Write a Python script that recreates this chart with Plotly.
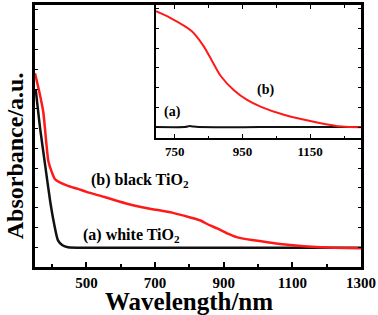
import plotly.graph_objects as go

# ---- main panel data (wavelength nm, absorbance a.u.) ----
red_wl = [350, 362, 374, 389, 400, 408, 425, 446, 475, 500, 550, 613, 677, 750, 803, 832, 860, 881, 910, 940, 987, 1040, 1086, 1182, 1300]
red_ab = [1.96, 1.78, 1.57, 1.07, 0.95, 0.89, 0.85, 0.82, 0.79, 0.76, 0.71, 0.645, 0.595, 0.55, 0.50, 0.47, 0.42, 0.39, 0.34, 0.30, 0.27, 0.245, 0.225, 0.20, 0.19]

blk_wl = [352, 365, 380, 394, 405, 417, 430, 446, 500, 600, 800, 1000, 1300]
blk_ab = [1.80, 1.40, 1.02, 0.67, 0.45, 0.27, 0.22, 0.20, 0.195, 0.195, 0.195, 0.195, 0.195]

# ---- inset data ----
ins_red_wl = [695, 737, 800, 835, 860, 885, 925, 965, 1005, 1075, 1174, 1244, 1300]
ins_red_ab = [1.287, 1.22, 1.087, 0.937, 0.787, 0.637, 0.487, 0.387, 0.32, 0.237, 0.16, 0.12, 0.113]
ins_blk_wl = [695, 780, 795, 805, 820, 1000, 1300]
ins_blk_ab = [0.115, 0.115, 0.125, 0.12, 0.115, 0.115, 0.115]

main_xticks = [500, 700, 900, 1100, 1300]
inset_xticks = [750, 950, 1150]

RED = "#ff1a1a"
BLK = "#111111"
FONT = "Liberation Serif"

# pixel geometry of the reference (used only for label placement)
L, R, T, B = 35, 361, 2, 267
IL = 156

def px_to_x(px, lo, hi, left, right):
    return lo + (px - left) / (right - left) * (hi - lo)

fig = go.Figure()
fig.add_trace(go.Scatter(x=blk_wl, y=blk_ab, mode="lines", line=dict(color=BLK, width=2.5, shape="spline", smoothing=0.6),
                         xaxis="x", yaxis="y", showlegend=False))
fig.add_trace(go.Scatter(x=red_wl, y=red_ab, mode="lines", line=dict(color=RED, width=2.5, shape="spline", smoothing=0.6),
                         xaxis="x", yaxis="y", showlegend=False))
fig.add_trace(go.Scatter(x=ins_blk_wl, y=ins_blk_ab, mode="lines", line=dict(color=BLK, width=2, shape="spline", smoothing=0.5),
                         xaxis="x2", yaxis="y2", showlegend=False))
fig.add_trace(go.Scatter(x=ins_red_wl, y=ins_red_ab, mode="lines", line=dict(color=RED, width=2, shape="spline", smoothing=0.7),
                         xaxis="x2", yaxis="y2", showlegend=False))

def axis(**kw):
    d = dict(showgrid=False, zeroline=False, showline=True, linecolor="black", linewidth=2.5,
             ticks="inside", tickcolor="black")
    d.update(kw)
    return d

fig.update_layout(
    width=378, height=315,
    margin=dict(l=L, r=378 - R, t=T, b=315 - B),
    paper_bgcolor="white", plot_bgcolor="white",
    font=dict(family=FONT, color="black", size=15, weight="bold"),
    xaxis=axis(domain=[0, 1], range=[350, 1300], tickvals=main_xticks, ticklen=5, tickwidth=1.5,
               mirror=True, tickfont=dict(size=15, family=FONT, weight="bold"),
               minor=dict(ticks="inside", ticklen=3, tickwidth=1.5, tickvals=[400, 600, 800, 1000, 1200], tickcolor="black")),
    yaxis=axis(domain=[0, 1], range=[0, 2.65], dtick=0.2, tick0=0, ticklen=3, tickwidth=1,
               mirror="ticks", showticklabels=False),
    xaxis2=axis(anchor="y2", domain=[(IL - L) / (R - L), 1], range=[695, 1300], tickvals=inset_xticks, ticklen=4, tickwidth=1.2,
                mirror="ticks", linewidth=2, tickfont=dict(size=13, family=FONT, weight="bold"),
                minor=dict(ticks="inside", ticklen=2.5, tickwidth=1.2, tickvals=[850, 1050, 1250], tickcolor="black")),
    yaxis2=axis(anchor="x2", domain=[(B - 137) / (B - T), 1], range=[0, 1.35], tick0=0.115, dtick=0.2, ticklen=3, tickwidth=1,
                mirror="ticks", linewidth=2, showticklabels=False),
    annotations=[
        dict(text="Wavelength/nm", xref="paper", yref="paper", x=(189 - L) / (R - L), y=(B - 302) / (B - T),
             xanchor="center", yanchor="middle",
             showarrow=False, font=dict(size=25, family=FONT, weight="bold")),
        dict(text="Absorbance/a.u.", textangle=-90, xref="paper", yref="paper",
             x=(15 - L) / (R - L), y=(B - 155) / (B - T), xanchor="center", yanchor="middle", showarrow=False,
             font=dict(size=24, family=FONT, weight="bold")),
        dict(text="(b) black TiO<sub>2</sub>", x=px_to_x(140, 350, 1300, L, R), y=0.88, xref="x", yref="y", showarrow=False,
             xanchor="center", yanchor="middle", font=dict(size=16, family=FONT, weight="bold")),
        dict(text="(a) white TiO<sub>2</sub>", x=px_to_x(131, 350, 1300, L, R), y=0.32, xref="x", yref="y", showarrow=False,
             xanchor="center", yanchor="middle", font=dict(size=16, family=FONT, weight="bold")),
        dict(text="(b)", x=px_to_x(265, 695, 1300, IL, R), y=0.49, xref="x2", yref="y2", showarrow=False,
             xanchor="center", yanchor="middle", font=dict(size=14, family=FONT, weight="bold")),
        dict(text="(a)", x=px_to_x(172, 695, 1300, IL, R), y=0.27, xref="x2", yref="y2", showarrow=False,
             xanchor="center", yanchor="middle", font=dict(size=14, family=FONT, weight="bold")),
    ],
)

fig.write_html("out.html", config={"displayModeBar": False},
               post_script="document.body.style.margin='0';document.body.style.padding='0';")
